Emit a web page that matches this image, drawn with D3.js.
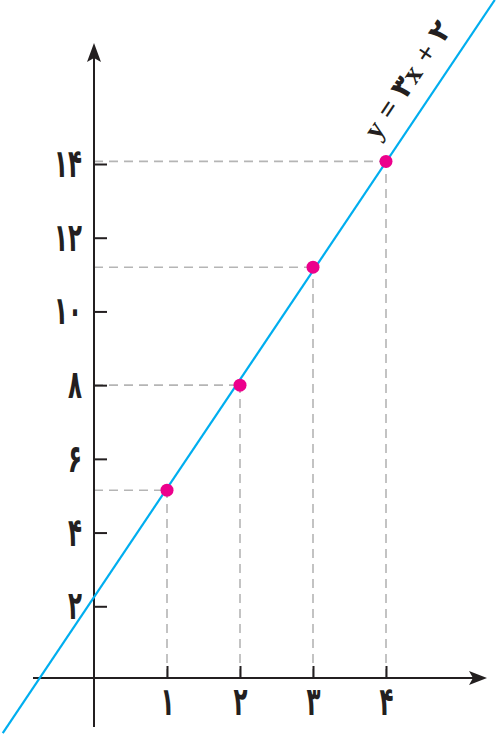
<!DOCTYPE html>
<html>
<head>
<meta charset="utf-8">
<script src="https://cdn.jsdelivr.net/npm/d3@7"></script>
<style>
  body { margin: 0; background: #fff; }
  svg { display: block; }
</style>
</head>
<body>
<div id="chart"></div>
<script>
// points (x, y)
var pointX = [1, 2, 3, 4];
var pointY = [5.15, 8.0, 11.2, 14.07];

// ends of the line y = 3x + 2 as it leaves the picture
var lineX = [-1.25, 5.49];
var lineY = [-1.44, 18.45];

// ticks and their persian labels
var xTicks = [1, 2, 3, 4];
var xTickLabels = ['۱', '۲', '۳', '۴'];
var yTicks = [2, 4, 6, 8, 10, 12, 14];
var yTickLabels = ['۲', '۴', '۶', '۸', '۱۰', '۱۲', '۱۴'];

var equationLabel = 'y = ۳x + ۲';

var width = 502, height = 736;

var x = d3.scaleLinear().domain([0, 4]).range([94, 386]);
var y = d3.scaleLinear().domain([0, 14]).range([680, 164]);

var svg = d3.select('#chart').append('svg')
    .attr('width', width)
    .attr('height', height);

var axisColor = '#231f20';

// dashed guides from the axes to each point
var guides = svg.append('g')
    .attr('stroke', '#b5b5b5')
    .attr('stroke-width', 1.6)
    .attr('stroke-dasharray', '9,6');

pointX.forEach(function(px, i) {
    guides.append('line')
	.attr('x1', x(0)).attr('x2', x(px))
	.attr('y1', y(pointY[i])).attr('y2', y(pointY[i]));
    guides.append('line')
	.attr('x1', x(px)).attr('x2', x(px))
	.attr('y1', 678).attr('y2', y(pointY[i]));
});

// axis lines
svg.append('line')
    .attr('x1', 33).attr('x2', 474)
    .attr('y1', 678).attr('y2', 678)
    .attr('stroke', axisColor).attr('stroke-width', 2);
svg.append('line')
    .attr('x1', x(0)).attr('x2', x(0))
    .attr('y1', 727).attr('y2', 56)
    .attr('stroke', axisColor).attr('stroke-width', 2);

// arrow heads
svg.append('path')
    .attr('d', 'M487,678 L469,671 L473,678 L469,685 Z')
    .attr('fill', axisColor);
svg.append('path')
    .attr('d', 'M94,43 L87,62 L94,58 L101,62 Z')
    .attr('fill', axisColor);

// ticks with labels via d3 axes
var xAxis = d3.axisBottom(x)
    .tickValues(xTicks)
    .tickSizeInner(-12)
    .tickSizeOuter(0)
    .tickPadding(10)
    .tickFormat(function(d, i) { return xTickLabels[i]; });

var yAxis = d3.axisLeft(y)
    .tickValues(yTicks)
    .tickSizeInner(-13)
    .tickSizeOuter(0)
    .tickPadding(11)
    .tickFormat(function(d, i) { return yTickLabels[i]; });

var gx = svg.append('g')
    .attr('transform', 'translate(0,678)')
    .call(xAxis);
var gy = svg.append('g')
    .attr('transform', 'translate(' + x(0) + ',0)')
    .call(yAxis);

[gx, gy].forEach(function(g) {
    g.select('.domain').remove();
    g.selectAll('.tick line')
	.attr('stroke', axisColor)
	.attr('stroke-width', 2);
    g.selectAll('.tick text')
	.attr('fill', axisColor)
	.style('font-family', '"DejaVu Sans", sans-serif')
	.style('font-weight', 'bold')
	.style('font-size', '27px');
});

// the digits in the picture are tall and narrow, so stretch them
gx.selectAll('.tick text')
    .attr('y', 0)
    .attr('dy', '0.71em')
    .attr('transform', 'translate(0,9) scale(0.85,1.45)');
gy.selectAll('.tick text')
    .attr('x', 0)
    .style('letter-spacing', '12px')
    .attr('transform', 'translate(-12,0) scale(0.85,1.45)');

// the line
svg.append('line')
    .attr('x1', x(lineX[0])).attr('y1', y(lineY[0]))
    .attr('x2', x(lineX[1])).attr('y2', y(lineY[1]))
    .attr('stroke', '#00aeef')
    .attr('stroke-width', 2.2);

// points
svg.selectAll('.pt')
    .data(pointX)
    .enter()
    .append('circle')
    .attr('class', 'pt')
    .attr('cx', function(d) { return x(d); })
    .attr('cy', function(d, i) { return y(pointY[i]); })
    .attr('r', 6.5)
    .attr('fill', '#ec008c');

// equation written along the line
var angle = Math.atan2(y(lineY[0]) - y(lineY[1]), x(lineX[1]) - x(lineX[0])) * 180 / Math.PI;
svg.append('text')
    .attr('transform', 'translate(378,141) rotate(' + (-angle) + ')')
    .attr('fill', axisColor)
    .style('font-family', '"Liberation Serif", "DejaVu Sans", serif')
    .style('font-weight', 'bold')
    .style('font-size', '29px')
    .style('word-spacing', '2px')
    .text(equationLabel);
</script>
</body>
</html>
